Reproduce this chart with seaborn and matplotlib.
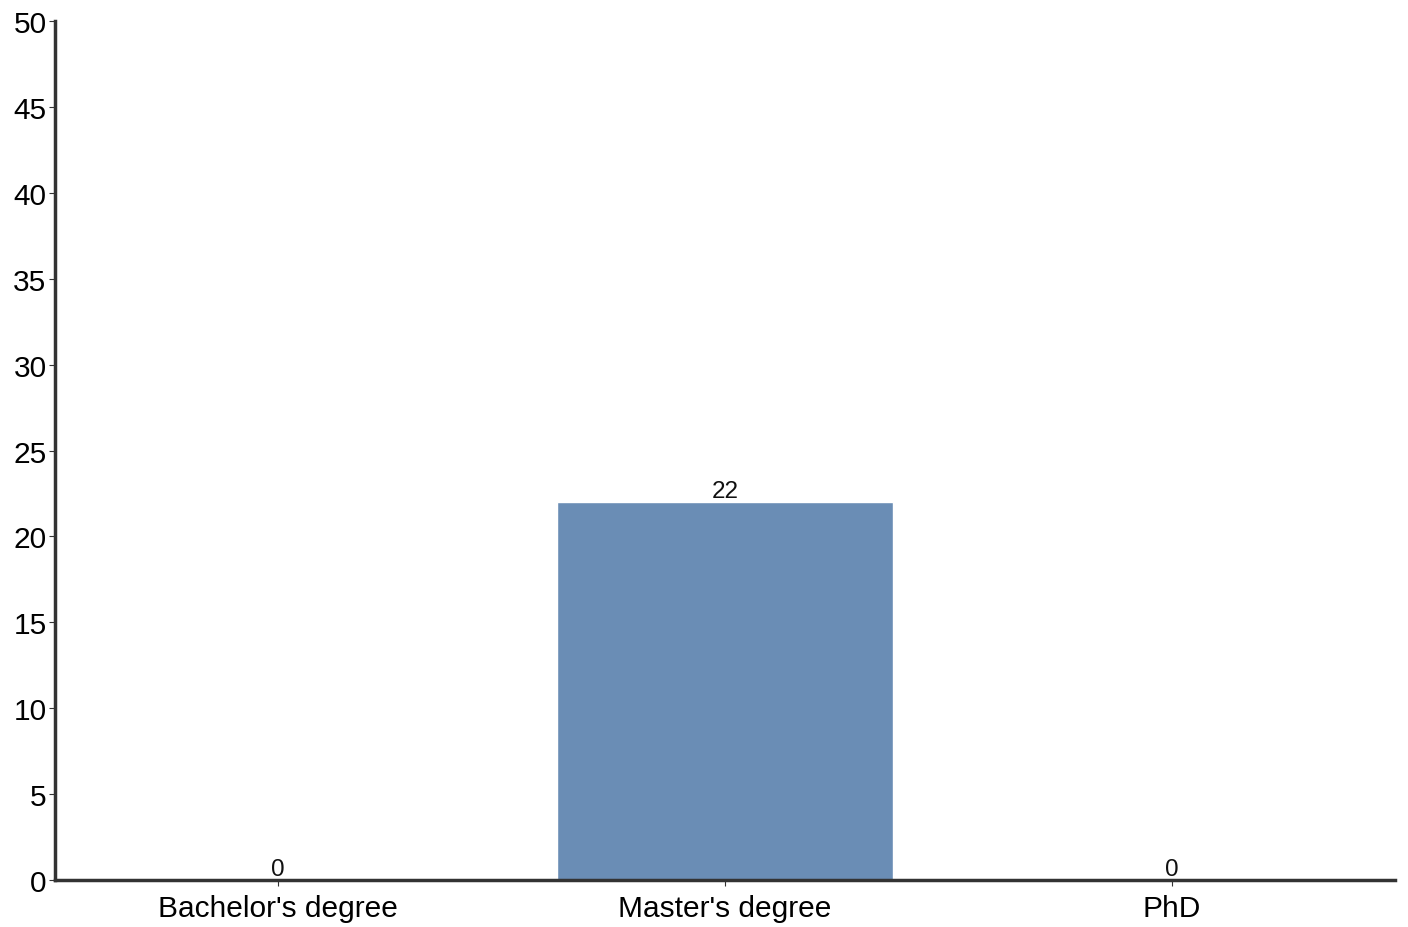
import matplotlib
matplotlib.use("Agg")
import matplotlib.pyplot as plt
import seaborn as sns
import pandas as pd

# Data
degrees = ["Bachelor's degree", "Master's degree", "PhD"]
counts = [0, 22, 0]

df = pd.DataFrame({'Degree': degrees, 'Count': counts})

sns.set_style('white')
plt.rcParams['font.family'] = ['Liberation Sans', 'DejaVu Sans']

fig = plt.figure(figsize=(14.08, 9.28), dpi=100)
ax = fig.add_axes([0.039, 0.0506, 0.9518, 0.9256])

sns.barplot(data=df, x='Degree', y='Count', color='#6a8db5', saturation=1, width=0.752, ax=ax)

# Value labels above the bars
for p, v in zip(ax.patches, counts):
    ax.annotate(str(v), (p.get_x() + p.get_width() / 2, p.get_height()),
                ha='center', va='bottom', fontsize=17.5, color='#111111',
                xytext=(0, 0), textcoords='offset points')

ax.set_ylim(0, 50)
ax.set_xlim(-0.5, 2.5)
ax.set_yticks(range(0, 51, 5))
ax.set_xlabel('')
ax.set_ylabel('')

sns.despine(ax=ax)
for side in ['left', 'bottom']:
    ax.spines[side].set_linewidth(2.5)
    ax.spines[side].set_color('#333333')

ax.tick_params(axis='both', which='both', direction='out', length=4, width=0.8,
               color='#333333', labelsize=21.5, labelcolor='black', left=True, bottom=True)
ax.tick_params(axis='x', pad=6)
ax.tick_params(axis='y', pad=2)

plt.savefig('out.png', dpi=100)
